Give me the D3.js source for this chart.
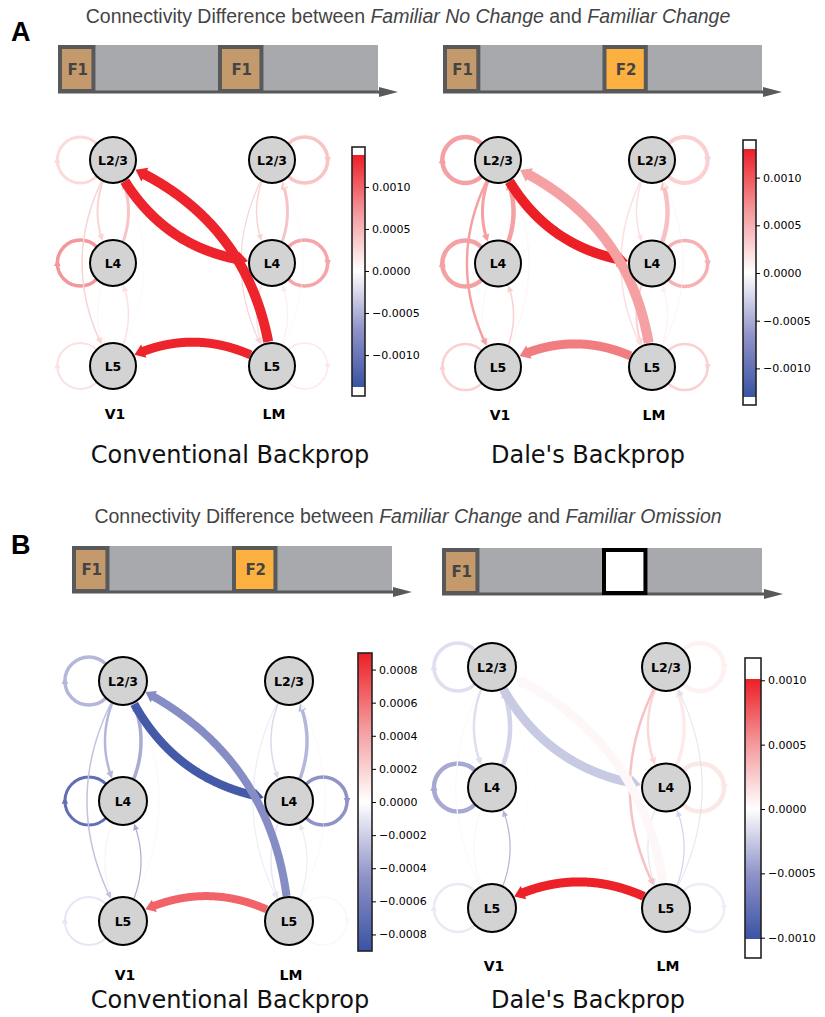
<!DOCTYPE html>
<html>
<head>
<meta charset="utf-8">
<script src="https://cdn.jsdelivr.net/npm/d3@7"></script>
<style>
  body { margin: 0; background: #fff; }
  svg text { font-family: "DejaVu Sans", sans-serif; }
</style>
</head>
<body>
<div id="chart"></div>
<script>
// ---- data ----
const areas = ["V1", "LM"];
const layers = ["L2/3", "L4", "L5"];

// edge order: self loops, V1 intra-area, LM intra-area, inter-area
const edgeList = [
  ["V1:L2/3", "V1:L2/3"], ["V1:L4", "V1:L4"], ["V1:L5", "V1:L5"],
  ["LM:L2/3", "LM:L2/3"], ["LM:L4", "LM:L4"], ["LM:L5", "LM:L5"],
  ["V1:L2/3", "V1:L4"], ["V1:L4", "V1:L2/3"], ["V1:L4", "V1:L5"],
  ["V1:L5", "V1:L4"], ["V1:L2/3", "V1:L5"], ["V1:L5", "V1:L2/3"],
  ["LM:L2/3", "LM:L4"], ["LM:L4", "LM:L2/3"], ["LM:L4", "LM:L5"],
  ["LM:L5", "LM:L4"], ["LM:L2/3", "LM:L5"], ["LM:L5", "LM:L2/3"],
  ["V1:L2/3", "LM:L4"], ["LM:L5", "V1:L2/3"], ["LM:L5", "V1:L5"]
];

// connectivity difference per edge
const diffConvA = [2.5e-4, 7e-4, 2e-4, 4e-4, 6e-4, 1.5e-4,
  3e-4, 4e-4, 1e-4, 2e-4, 3e-4, 0.8e-4,
  3e-4, 4e-4, 2e-4, 1.5e-4, 3e-4, 0.8e-4,
  13.5e-4, 13.5e-4, 13.5e-4];
const diffDaleA = [6e-4, 6e-4, 3e-4, 3e-4, 5e-4, 3e-4,
  6e-4, 6e-4, 1e-4, 3e-4, 6e-4, 1e-4,
  2e-4, 4e-4, 3e-4, 1e-4, 2e-4, 1e-4,
  13e-4, 6e-4, 8e-4];
const diffConvB = [-3e-4, -7e-4, -1e-4, 0, -4.5e-4, -0.3e-4,
  -3e-4, -3.5e-4, -0.5e-4, -3.5e-4, -2.5e-4, -0.5e-4,
  -1.5e-4, -3e-4, -1e-4, -1e-4, -1e-4, -0.5e-4,
  -8.5e-4, -5e-4, 6.5e-4];
const diffDaleB = [-1.5e-4, -4e-4, -1e-4, 0.7e-4, 1.2e-4, -0.8e-4,
  -1.5e-4, -2e-4, 0.5e-4, -3.5e-4, 0.3e-4, 0.3e-4,
  2e-4, 1e-4, -1.2e-4, -2e-4, 3e-4, -1.5e-4,
  -2.5e-4, 0.4e-4, 10e-4];

// relative connection strength per edge (edge width)
const weightConvA = [0.3, 0.35, 0.2, 0.35, 0.35, 0.15,
  0.2, 0.3, 0.08, 0.15, 0.15, 0.06,
  0.15, 0.3, 0.15, 0.1, 0.12, 0.06,
  1, 1, 0.9];
const weightDaleA = [0.45, 0.45, 0.25, 0.4, 0.35, 0.25,
  0.3, 0.45, 0.08, 0.15, 0.25, 0.08,
  0.15, 0.45, 0.2, 0.1, 0.15, 0.08,
  1, 1, 0.9];
const weightConvB = [0.35, 0.3, 0.2, 0.2, 0.35, 0.15,
  0.25, 0.35, 0.1, 0.12, 0.15, 0.06,
  0.15, 0.35, 0.15, 0.1, 0.1, 0.06,
  0.85, 0.8, 0.8];
const weightDaleB = [0.35, 0.45, 0.25, 0.45, 0.45, 0.25,
  0.25, 0.45, 0.1, 0.12, 0.12, 0.08,
  0.25, 0.35, 0.12, 0.12, 0.25, 0.1,
  0.9, 0.9, 0.9];

const ticksA1 = [-0.001, -0.0005, 0, 0.0005, 0.001];
const ticksB1 = [-0.0008, -0.0006, -0.0004, -0.0002, 0, 0.0002, 0.0004, 0.0006, 0.0008];

// stimulus sequences for the timelines
const seqA1 = ["F1", "F1"];
const seqA2 = ["F1", "F2"];
const seqB1 = ["F1", "F2"];
const seqB2 = ["F1", "omit"];
const stimOnset = [0, 0.5];
const stimWidth = [0.117, 0.142];

// ---- layout ----
const W = 825, H = 1017;
const cmap = ["#3a53a4", "#9093c8", "#ffffff", "#f4999c", "#ed1f26"];
const stimFill = { F1: "#c49a6c", F2: "#fbb040", omit: "#ffffff" };

const svg = d3.select("#chart").append("svg")
  .attr("width", W).attr("height", H);
svg.append("rect").attr("width", W).attr("height", H).attr("fill", "#fff");
const defs = svg.append("defs");

const panels = [
  { id: "a1", diff: diffConvA, weight: weightConvA, nx: [113, 272], ny: [160, 366], r: 23,
    vmax: 0.00138, cb: { x: 352, w: 13, y0: 147, y1: 396, c0: 155, c1: 387 }, ticks: ticksA1,
    labelY: 419, title: "Conventional Backprop", tx: 230, ty: 463 },
  { id: "a2", diff: diffDaleA, weight: weightDaleA, nx: [498, 652], ny: [160, 367], r: 23,
    vmax: 0.0013, cb: { x: 743, w: 13, y0: 140, y1: 405, c0: 149, c1: 397 }, ticks: ticksA1,
    labelY: 420, title: "Dale's Backprop", tx: 588, ty: 463 },
  { id: "b1", diff: diffConvB, weight: weightConvB, nx: [123, 289], ny: [681, 921], r: 24,
    vmax: 0.0009, cb: { x: 358, w: 14, y0: 653, y1: 951, c0: 653, c1: 951 }, ticks: ticksB1,
    labelY: 980, title: "Conventional Backprop", tx: 230, ty: 1008 },
  { id: "b2", diff: diffDaleB, weight: weightDaleB, nx: [492, 666], ny: [667, 908], r: 24,
    vmax: 0.00101, cb: { x: 745, w: 16, y0: 658, y1: 958, c0: 679, c1: 939 }, ticks: ticksA1,
    labelY: 971, title: "Dale's Backprop", tx: 588, ty: 1008 }
];

const timelines = [
  { seq: seqA1, x0: 58, x1: 378, y0: 45, y1: 93, tip: 398 },
  { seq: seqA2, x0: 443, x1: 762, y0: 45, y1: 93, tip: 782 },
  { seq: seqB1, x0: 72, x1: 392, y0: 546, y1: 593, tip: 412 },
  { seq: seqB2, x0: 442, x1: 762, y0: 548, y1: 595, tip: 783 }
];

// ---- headings ----
function heading(y, a, b) {
  const t = svg.append("text").attr("x", 408).attr("y", y)
    .attr("text-anchor", "middle")
    .style("font-family", "'Liberation Sans', Arial, sans-serif")
    .style("font-size", "19.5px").attr("fill", "#444");
  t.append("tspan").text("Connectivity Difference between ");
  t.append("tspan").style("font-style", "italic").text(a);
  t.append("tspan").text(" and ");
  t.append("tspan").style("font-style", "italic").text(b);
}
heading(23, "Familiar No Change", "Familiar Change");
heading(523, "Familiar Change", "Familiar Omission");

svg.append("text").attr("x", 11).attr("y", 41).text("A")
  .style("font-family", "'Liberation Sans', Arial, sans-serif")
  .style("font-weight", "bold").style("font-size", "27px");
svg.append("text").attr("x", 11).attr("y", 554).text("B")
  .style("font-family", "'Liberation Sans', Arial, sans-serif")
  .style("font-weight", "bold").style("font-size", "27px");

// ---- timelines ----
timelines.forEach(tl => {
  const g = svg.append("g");
  const t = d3.scaleLinear().domain([0, 1]).range([tl.x0, tl.x1]);
  g.append("rect").attr("x", tl.x0).attr("y", tl.y0)
    .attr("width", tl.x1 - tl.x0).attr("height", tl.y1 - tl.y0)
    .attr("fill", "#a7a9ac");
  g.append("line").attr("x1", tl.x0).attr("x2", tl.tip - 14)
    .attr("y1", tl.y1 - 1).attr("y2", tl.y1 - 1)
    .attr("stroke", "#58595b").attr("stroke-width", 3);
  g.append("path")
    .attr("d", `M${tl.tip - 19},${tl.y1 - 6}L${tl.tip},${tl.y1 - 1}L${tl.tip - 19},${tl.y1 + 4}Z`)
    .attr("fill", "#58595b");
  tl.seq.forEach((s, i) => {
    const bx = t(stimOnset[i]), bw = t(stimOnset[i] + stimWidth[i]) - bx;
    g.append("rect").attr("x", bx + 2).attr("y", tl.y0 + 2)
      .attr("width", bw - 4).attr("height", tl.y1 - tl.y0 - 4)
      .attr("fill", stimFill[s])
      .attr("stroke", s === "omit" ? "#000" : "#58595b").attr("stroke-width", 4);
    if (s !== "omit") {
      g.append("text").attr("x", bx + bw / 2 + 1).attr("y", (tl.y0 + tl.y1) / 2 + 5.5)
        .attr("text-anchor", "middle").attr("fill", "#444")
        .style("font-weight", "bold").style("font-size", "15px").text(s);
    }
  });
});

// ---- networks ----
function arrowHead(g, tip, dir, w, col) {
  const L = 6 + w * 0.45, hw = Math.max(3, w * 0.55 + 2.2);
  const bx = tip[0] - dir[0] * L, by = tip[1] - dir[1] * L;
  const px = -dir[1], py = dir[0];
  g.append("path")
    .attr("d", `M${tip[0]},${tip[1]}L${bx + px * hw},${by + py * hw}L${bx - px * hw},${by - py * hw}Z`)
    .attr("fill", col);
  return L;
}

function drawPanel(p) {
  const g = svg.append("g");
  const x = d3.scalePoint().domain(areas).range(p.nx);
  const y = d3.scalePoint().domain(layers).range(p.ny);
  const color = d3.scaleLinear()
    .domain([-1, -0.5, 0, 0.5, 1].map(v => v * p.vmax))
    .range(cmap).clamp(true);
  const width = d3.scaleLinear().domain([0, 1]).range([0, 10]);
  const pos = id => { const [a, l] = id.split(":"); return [x(a), y(l), a]; };
  const r = p.r;
  const line = d3.line();

  edgeList.forEach(([s, t], i) => {
    const col = color(p.diff[i]);
    const w = Math.max(0.5, width(p.weight[i]));
    const [x0, y0, a0] = pos(s);
    if (s === t) {
      const side = a0 === "V1" ? -1 : 1;
      const cx = x0 + side * r * 1.42, lr = r;
      g.append("circle").attr("cx", cx).attr("cy", y0).attr("r", lr)
        .attr("fill", "none").attr("stroke", col).attr("stroke-width", w);
      arrowHead(g, [cx + side * lr, y0 + side * 4], [0, side], w * 0.6, col);
      return;
    }
    const [x2, y2] = pos(t);
    const dx = x2 - x0, dy = y2 - y0, rad = 0.3;
    const cx = (x0 + x2) / 2 - rad * dy, cy = (y0 + y2) / 2 + rad * dx;
    const N = 400, pts = [];
    for (let k = 0; k <= N; k++) {
      const u = k / N, v = 1 - u;
      pts.push([v * v * x0 + 2 * v * u * cx + u * u * x2, v * v * y0 + 2 * v * u * cy + u * u * y2]);
    }
    const dist = (q, a, b) => Math.hypot(q[0] - a, q[1] - b);
    let i0 = 0;
    while (i0 < N && dist(pts[i0], x0, y0) < r + 1) i0++;
    let i1 = N;
    while (i1 > 0 && dist(pts[i1], x2, y2) < r + 1) i1--;
    const tip = pts[i1];
    const L = 6 + w * 0.45;
    let ib = i1;
    while (ib > i0 && dist(pts[ib], tip[0], tip[1]) < L) ib--;
    const d = Math.hypot(tip[0] - pts[ib][0], tip[1] - pts[ib][1]) || 1;
    const dir = [(tip[0] - pts[ib][0]) / d, (tip[1] - pts[ib][1]) / d];
    g.append("path").attr("d", line(pts.slice(i0, Math.min(ib + 3, i1) + 1)))
      .attr("fill", "none").attr("stroke", col).attr("stroke-width", w);
    arrowHead(g, tip, dir, w, col);
  });

  // nodes
  areas.forEach(a => layers.forEach(l => {
    g.append("circle").attr("cx", x(a)).attr("cy", y(l)).attr("r", r)
      .attr("fill", "#d3d3d3").attr("stroke", "#000").attr("stroke-width", 2);
    g.append("text").attr("x", x(a)).attr("y", y(l) + 4.5)
      .attr("text-anchor", "middle").style("font-weight", "bold")
      .style("font-size", "12.5px").text(l);
  }));
  areas.forEach(a => {
    g.append("text").attr("x", x(a) + 2).attr("y", p.labelY)
      .attr("text-anchor", "middle").style("font-weight", "bold")
      .style("font-size", "14px").text(a);
  });
  g.append("text").attr("x", p.tx).attr("y", p.ty).attr("text-anchor", "middle")
    .style("font-size", "24px").attr("fill", "#111").text(p.title);

  // colorbar
  const cb = p.cb;
  const gid = "grad-" + p.id;
  const grad = defs.append("linearGradient").attr("id", gid)
    .attr("x1", 0).attr("y1", 1).attr("x2", 0).attr("y2", 0);
  d3.range(0, 1.0001, 0.05).forEach(f => {
    grad.append("stop").attr("offset", f)
      .attr("stop-color", color(-p.vmax + 2 * p.vmax * f));
  });
  g.append("rect").attr("x", cb.x).attr("y", cb.y0).attr("width", cb.w)
    .attr("height", cb.y1 - cb.y0).attr("fill", "#fff");
  g.append("rect").attr("x", cb.x).attr("y", cb.c0).attr("width", cb.w)
    .attr("height", cb.c1 - cb.c0).attr("fill", `url(#${gid})`);
  g.append("rect").attr("x", cb.x).attr("y", cb.y0).attr("width", cb.w)
    .attr("height", cb.y1 - cb.y0).attr("fill", "none")
    .attr("stroke", "#222").attr("stroke-width", 1.6);
  const cs = d3.scaleLinear().domain([-p.vmax, p.vmax]).range([cb.c1, cb.c0]);
  const ax = g.append("g").attr("transform", `translate(${cb.x + cb.w},0)`)
    .call(d3.axisRight(cs).tickValues(p.ticks).tickSize(4).tickPadding(3)
      .tickFormat(d3.format(".4f")));
  ax.select(".domain").remove();
  ax.selectAll("text").style("font-family", "'DejaVu Sans', sans-serif")
    .style("font-size", "11px").attr("fill", "#000");
  ax.selectAll("line").attr("stroke", "#000");
}

panels.forEach(drawPanel);
</script>
</body>
</html>
